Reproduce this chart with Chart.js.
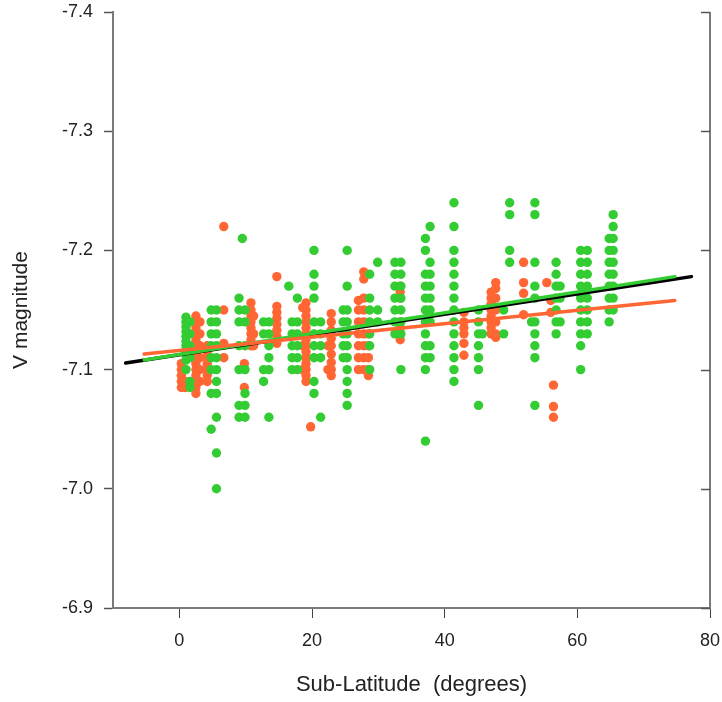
<!DOCTYPE html>
<html>
<head>
<meta charset="utf-8">
<script src="https://cdn.jsdelivr.net/npm/chart.js@4"></script>
<style>
html,body{margin:0;padding:0;background:#fff;}
#wrap{width:722px;height:702px;}
</style>
</head>
<body>
<div id="wrap"><canvas id="c" width="722" height="702"></canvas></div>
<script>
// ---- data ----
const xTickValues = [0, 20, 40, 60, 80];
const yTickValues = [-7.4, -7.3, -7.2, -7.1, -7.0, -6.9];

const greenColX = [1.0, 1.6, 4.8, 5.6, 9.0, 9.5, 9.9, 12.7, 13.5, 16.5, 17.0, 17.8, 20.3, 21.3, 24.7, 25.3, 28.7, 29.9, 32.5, 33.4, 37.1, 37.8, 41.4, 45.1, 45.7, 48.9, 49.8, 53.1, 53.6, 56.8, 57.4, 60.5, 61.5, 64.8, 65.4];
const greenColY = [
  [-7.144,-7.14,-7.136,-7.132,-7.128,-7.124,-7.12,-7.116,-7.112,-7.108,-7.10],
  [-7.14,-7.13,-7.12,-7.11,-7.09,-7.085],
  [-7.15,-7.14,-7.13,-7.12,-7.11,-7.10,-7.08,-7.05],
  [-7.15,-7.14,-7.13,-7.12,-7.11,-7.10,-7.09,-7.08,-7.06,-7.03,-7.00],
  [-7.16,-7.15,-7.14,-7.12,-7.10,-7.07,-7.06],
  [-7.21],
  [-7.15,-7.14,-7.12,-7.10,-7.08,-7.07,-7.06],
  [-7.14,-7.13,-7.10,-7.09],
  [-7.14,-7.13,-7.12,-7.11,-7.10,-7.06],
  [-7.17],
  [-7.14,-7.13,-7.12,-7.11,-7.10],
  [-7.16,-7.14,-7.13,-7.12,-7.11,-7.10],
  [-7.20,-7.18,-7.17,-7.16,-7.14,-7.13,-7.12,-7.11,-7.09,-7.08],
  [-7.14,-7.13,-7.12,-7.11,-7.06],
  [-7.15,-7.14,-7.13,-7.12,-7.11],
  [-7.20,-7.17,-7.15,-7.14,-7.13,-7.12,-7.11,-7.10,-7.09,-7.08,-7.07],
  [-7.18,-7.16,-7.15,-7.14,-7.13,-7.12,-7.10],
  [-7.19,-7.15,-7.14],
  [-7.19,-7.18,-7.17,-7.16,-7.15,-7.14,-7.13],
  [-7.19,-7.18,-7.17,-7.16,-7.15,-7.14,-7.13,-7.10],
  [-7.21,-7.20,-7.18,-7.17,-7.16,-7.15,-7.14,-7.13,-7.12,-7.11,-7.10,-7.04],
  [-7.22,-7.19,-7.18,-7.17,-7.16,-7.15,-7.14,-7.12,-7.11],
  [-7.24,-7.22,-7.20,-7.19,-7.18,-7.17,-7.16,-7.15,-7.14,-7.13,-7.12,-7.11,-7.10,-7.09],
  [-7.15,-7.14,-7.13,-7.12,-7.11,-7.10,-7.07],
  [-7.13],
  [-7.15,-7.13],
  [-7.24,-7.23,-7.20,-7.19],
  [-7.14],
  [-7.24,-7.23,-7.19,-7.17,-7.16,-7.14,-7.13,-7.12,-7.11,-7.07],
  [-7.19,-7.18,-7.17,-7.16,-7.15,-7.14,-7.13],
  [-7.17,-7.16,-7.14],
  [-7.20,-7.19,-7.18,-7.17,-7.16,-7.15,-7.14,-7.13,-7.12,-7.10],
  [-7.20,-7.19,-7.18,-7.17,-7.16,-7.15,-7.14,-7.13],
  [-7.21,-7.20,-7.19,-7.18,-7.17,-7.16,-7.15,-7.14],
  [-7.23,-7.22,-7.21,-7.20,-7.19,-7.18,-7.17,-7.16,-7.15]
];

const orangeColX = [0.3, 0.9, 2.5, 3.1, 4.2, 6.7, 9.8, 10.8, 11.2, 14.7, 18.6, 19.1, 19.8, 22.4, 22.9, 27.0, 27.8, 28.5, 33.3, 42.9, 47.0, 47.7, 51.9, 55.4, 56.0, 56.4];
const orangeColY = [
  [-7.105,-7.10,-7.095,-7.09,-7.085],
  [-7.10,-7.09,-7.085],
  [-7.145,-7.14,-7.135,-7.13,-7.125,-7.12,-7.115,-7.11,-7.105,-7.10,-7.095,-7.09,-7.085,-7.08],
  [-7.14,-7.13,-7.12,-7.11,-7.10,-7.09],
  [-7.12,-7.115,-7.11,-7.105,-7.10,-7.095,-7.09],
  [-7.22,-7.15,-7.122,-7.11],
  [-7.105,-7.085],
  [-7.156,-7.15,-7.145,-7.14,-7.135,-7.13,-7.125,-7.12],
  [-7.145,-7.13,-7.12],
  [-7.178,-7.153,-7.148,-7.143,-7.138,-7.133,-7.128,-7.122],
  [-7.152,-7.12,-7.10],
  [-7.156,-7.15,-7.145,-7.14,-7.135,-7.13,-7.125,-7.12,-7.115,-7.11,-7.105,-7.10,-7.095,-7.09],
  [-7.052],
  [-7.12,-7.10],
  [-7.147,-7.14,-7.133,-7.126,-7.12,-7.113,-7.106,-7.10,-7.095],
  [-7.158,-7.15,-7.14,-7.13,-7.12,-7.11,-7.10],
  [-7.182,-7.176,-7.16,-7.15,-7.14,-7.13,-7.12,-7.11,-7.10],
  [-7.13,-7.12,-7.11,-7.10,-7.095],
  [-7.17,-7.165,-7.16,-7.14,-7.135,-7.13,-7.125],
  [-7.148,-7.14,-7.135,-7.13,-7.122,-7.112],
  [-7.165,-7.16,-7.155,-7.15,-7.145,-7.14,-7.135,-7.13],
  [-7.173,-7.168,-7.16,-7.15,-7.14,-7.13,-7.127],
  [-7.19,-7.173,-7.164,-7.146],
  [-7.173],
  [-7.158,-7.148],
  [-7.087,-7.069,-7.06]
];

const blackFitX = [-8.1, 77.2];
const blackFitY = [-7.1055, -7.178];
const greenFitX = [-5.3, 74.7];
const greenFitY = [-7.108, -7.178];
const orangeFitX = [-5.3, 74.7];
const orangeFitY = [-7.113, -7.158];

// ---- build library data ----
function flatten(colX, colY) {
  const out = [];
  colX.forEach((x, i) => colY[i].forEach(y => out.push({x: x, y: y})));
  return out;
}
function pairs(xs, ys) { return xs.map((x, i) => ({x: x, y: ys[i]})); }

const GREEN = '#33cc33';
const ORANGE = '#ff6633';
const FONT = "'Liberation Sans', Arial, Helvetica, sans-serif";
const AXIS = '#7a7a7a';

const rightFrame = {
  id: 'rightFrame',
  afterDraw(chart) {
    const ctx = chart.ctx, a = chart.chartArea, ys = chart.scales.y;
    ctx.save();
    ctx.strokeStyle = AXIS;
    ctx.lineWidth = 2;
    ctx.beginPath();
    ctx.moveTo(a.right, a.top);
    ctx.lineTo(a.right, a.bottom);
    ctx.stroke();
    ctx.lineWidth = 1.5;
    ctx.strokeStyle = '#555';
    ys.ticks.forEach(t => {
      const py = Math.round(ys.getPixelForValue(t.value)) + 0.5;
      ctx.beginPath();
      ctx.moveTo(a.right, py);
      ctx.lineTo(a.right - 9, py);
      ctx.stroke();
    });
    ctx.restore();
  }
};

new Chart(document.getElementById('c'), {
  type: 'scatter',
  data: {
    datasets: [
      {label: 'orange fit', type: 'line', data: pairs(orangeFitX, orangeFitY), borderColor: ORANGE, borderWidth: 3.5, pointRadius: 0, borderCapStyle: 'round', order: 0},
      {label: 'green fit', type: 'line', data: pairs(greenFitX, greenFitY), borderColor: GREEN, borderWidth: 3.5, pointRadius: 0, borderCapStyle: 'round', order: 1},
      {label: 'black fit', type: 'line', data: pairs(blackFitX, blackFitY), borderColor: '#000', borderWidth: 3.5, pointRadius: 0, borderCapStyle: 'round', order: 2},
      {label: 'green', data: flatten(greenColX, greenColY), backgroundColor: GREEN, borderWidth: 0, pointRadius: 4.7, order: 3},
      {label: 'orange', data: flatten(orangeColX, orangeColY), backgroundColor: ORANGE, borderWidth: 0, pointRadius: 4.7, order: 4}
    ]
  },
  options: {
    responsive: false,
    animation: false,
    events: [],
    layout: {padding: {top: 12, right: 12, left: 0, bottom: 0}},
    plugins: {legend: {display: false}, tooltip: {enabled: false}},
    scales: {
      x: {
        type: 'linear', min: -10, max: 80,
        afterBuildTicks: s => { s.ticks = xTickValues.map(v => ({value: v})); },
        afterFit: s => { s.height = 94; s.paddingLeft = 0; s.paddingRight = 0; },
        grid: {display: true, drawOnChartArea: false, drawTicks: true, tickLength: 10, tickColor: '#444', tickWidth: 1},
        border: {display: true, color: AXIS, width: 2},
        ticks: {font: {family: FONT, size: 18}, color: '#222', padding: 12, maxRotation: 0, autoSkip: false,
                callback: v => String(v)},
        title: {display: true, text: 'Sub-Latitude  (degrees)', font: {family: FONT, size: 22}, color: '#222', padding: {top: 0, bottom: 4}}
      },
      y: {
        type: 'linear', min: -7.4, max: -6.9, reverse: true,
        afterBuildTicks: s => { s.ticks = yTickValues.map(v => ({value: v})); },
        afterFit: s => { s.width = 113; s.paddingTop = 0; s.paddingBottom = 0; },
        grid: {display: true, drawOnChartArea: false, drawTicks: true, tickLength: 9, tickColor: '#555', tickWidth: 1.5},
        border: {display: true, color: AXIS, width: 2},
        ticks: {font: {family: FONT, size: 18}, color: '#222', padding: 11, autoSkip: false,
                callback: v => Number(v).toFixed(1)},
        title: {display: true, text: 'V magnitude', font: {family: FONT, size: 21}, color: '#222', padding: {top: 9, bottom: 0}}
      }
    }
  },
  plugins: [rightFrame]
});
</script>
</body>
</html>
